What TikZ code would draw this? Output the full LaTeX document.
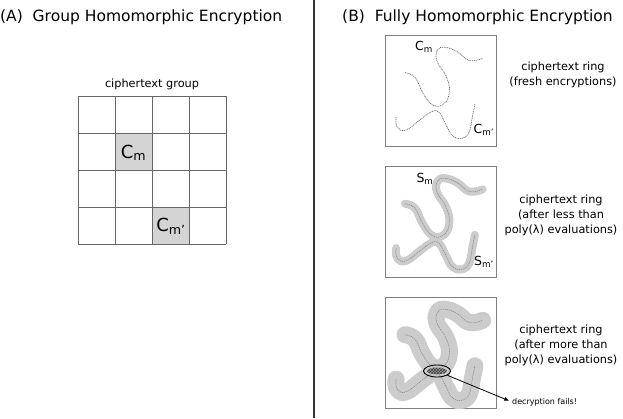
\documentclass[tikz,border=0pt]{standalone}
\usepackage{fontspec}
\setmainfont{DejaVu Sans}
\usetikzlibrary{arrows.meta,shapes.geometric,patterns}
\newcommand{\drawrings}[1]{%
  \draw[#1] plot[smooth,tension=0.75] coordinates {(.18,.34) (.27,.38) (.34,.52) (.43,.63) (.53,.62) (.58,.51) (.55,.37) (.47,.24) (.47,.14) (.54,.11) (.65,.15) (.76,.23) (.88,.21)};
  \draw[#1] plot[smooth,tension=0.75] coordinates {(.10,.74) (.11,.83) (.19,.855) (.32,.76) (.42,.69) (.49,.70) (.55,.81) (.61,.91) (.70,.93) (.76,.87) (.79,.72) (.81,.62)};
}
\begin{document}
\begin{tikzpicture}[x=1pt,y=-1pt,
  title/.style={anchor=west,inner sep=0pt,font=\fontsize{15.5}{18}\selectfont},
  lbl/.style={inner sep=0pt,align=center,font=\fontsize{11.3}{15}\selectfont},
  gridline/.style={draw=black!60,line width=0.9pt},
  cellfill/.style={fill=black!17},
  ringbox/.style={draw=black!50,line width=0.9pt,minimum width=111pt,minimum height=111pt,anchor=north west,inner sep=0pt},
  thinc/.style={draw=black!60,line width=0.7pt,dash pattern=on 1pt off 0.8pt},
  band/.style={draw=black!20,line cap=round,line join=round},
  core/.style={draw=black!50,line width=0.5pt,dash pattern=on 1.2pt off 0.8pt},
  sub/.style={inner sep=0pt,font=\fontsize{12.5}{14}\selectfont},
  big/.style={inner sep=0pt,font=\fontsize{18}{20}\selectfont}
]
\useasboundingbox (0,0) rectangle (623,418);
\node[title] (tA) at (0,17) {(A)\ \ Group Homomorphic Encryption};
\node[title] (tB) at (342,17) {(B)\ \ Fully Homomorphic Encryption};
\coordinate (dtop) at (314,0);
\coordinate (dbot) at (314,418);
\draw[line width=1.2pt,black!80] (dtop) -- (dbot);

% group grid
\node[lbl] (cg) at (152,84) {ciphertext group};
\fill[cellfill] (115,133) rectangle (152,170);
\fill[cellfill] (152,207) rectangle (189,244);
\foreach \i in {0,...,4} {
  \draw[gridline] (78+37*\i,96) -- (78+37*\i,244);
  \draw[gridline] (78,96+37*\i) -- (226,96+37*\i);
}
\node[big] (gcm) at (133.5,153) {C\textsubscript{m}};
\node[big] (gcmp) at (171,226) {C\textsubscript{m'}};

% box 1
\node[ringbox] (b1) at (385,35) {};
\begin{scope}[shift={(385,35)},x=111pt,y=-111pt]
  \drawrings{thinc}
\end{scope}
\node[sub] (l1a) at (424,47) {C\textsubscript{m}};
\node[sub] (l1b) at (484,130) {C\textsubscript{m'}};
\node[lbl] (r1) at (563,75) {ciphertext ring\\(fresh encryptions)};

% box 2
\node[ringbox] (b2) at (385,166) {};
\begin{scope}[shift={(385,166)},x=111pt,y=-111pt]
  \drawrings{band,line width=8pt}
  \drawrings{core}
\end{scope}
\node[sub] (l2a) at (425,179) {S\textsubscript{m}};
\node[sub] (l2b) at (484,262) {S\textsubscript{m'}};
\node[lbl] (r2) at (561,215) {ciphertext ring\\(after less than\\poly(λ) evaluations)};

% box 3
\node[ringbox] (b3) at (385,297) {};
\begin{scope}[shift={(385,297)},x=111pt,y=-111pt]
  \drawrings{band,line width=17pt}
  \drawrings{core}
\end{scope}
\fill[black!40] (437,371) ellipse [x radius=10, y radius=3.3];
\fill[pattern=crosshatch,pattern color=black!75] (437,371) ellipse [x radius=10, y radius=3.3];
\node[draw,ellipse,line width=0.9pt,minimum width=27pt,minimum height=12pt,inner sep=0pt] (ell) at (437,371) {};
\node[anchor=west,inner sep=0pt,font=\fontsize{8}{9}\selectfont] (fail) at (512,402) {decryption fails!};
\draw[-{Latex[length=5pt,width=4pt]},line width=0.8pt,shorten >=3pt] (ell) -- (fail.west);
\node[lbl] (r3) at (561,345) {ciphertext ring\\(after more than\\poly(λ) evaluations)};
\end{tikzpicture}
\end{document}
